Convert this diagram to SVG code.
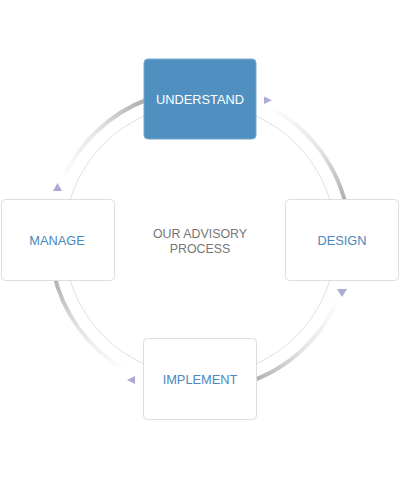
<svg xmlns="http://www.w3.org/2000/svg" width="400" height="479" viewBox="0 0 400 479">
<style>
.box{fill:#fff;stroke:#dedede;stroke-width:1}
.lbl{font-family:"Liberation Sans",Arial,sans-serif;font-size:12.8px;fill:#4a88bd;text-anchor:middle}
.center{font-family:"Liberation Sans",Arial,sans-serif;font-size:12.4px;fill:#777;text-anchor:middle}
.arrow{fill:#ababd3}
.thick{fill:none;stroke-width:4;stroke-linecap:butt}
</style>
<defs>
<linearGradient id="gTR" gradientUnits="userSpaceOnUse" x1="268" y1="106" x2="347" y2="209">
<stop offset="0" stop-color="#a8a8a8" stop-opacity="0"/><stop offset="0.5" stop-color="#a8a8a8" stop-opacity="0.3"/><stop offset="1" stop-color="#a8a8a8" stop-opacity="1"/>
</linearGradient>
<linearGradient id="gBR" gradientUnits="userSpaceOnUse" x1="339" y1="296" x2="246" y2="383">
<stop offset="0" stop-color="#a8a8a8" stop-opacity="0"/><stop offset="0.5" stop-color="#a8a8a8" stop-opacity="0.3"/><stop offset="1" stop-color="#a8a8a8" stop-opacity="1"/>
</linearGradient>
<linearGradient id="gBL" gradientUnits="userSpaceOnUse" x1="125" y1="370" x2="53" y2="271">
<stop offset="0" stop-color="#a8a8a8" stop-opacity="0"/><stop offset="0.5" stop-color="#a8a8a8" stop-opacity="0.3"/><stop offset="1" stop-color="#a8a8a8" stop-opacity="1"/>
</linearGradient>
<linearGradient id="gTL" gradientUnits="userSpaceOnUse" x1="62" y1="181" x2="149" y2="99">
<stop offset="0" stop-color="#a8a8a8" stop-opacity="0"/><stop offset="0.5" stop-color="#a8a8a8" stop-opacity="0.3"/><stop offset="1" stop-color="#a8a8a8" stop-opacity="1"/>
</linearGradient>
</defs>
<rect width="400" height="479" fill="#fff"/>
<g id="connectors">
<circle cx="200" cy="240" r="136" fill="none" stroke="#e0e0e0" stroke-width="1"/>
<path class="thick" stroke="url(#gTR)" d="M268.1,106.4 A150,150 0 0 1 347.7,214"/>
<path class="thick" stroke="url(#gBR)" d="M339.1,296.2 A150,150 0 0 1 246.4,382.7"/>
<path class="thick" stroke="url(#gBL)" d="M125,369.9 A150,150 0 0 1 53.3,271.2"/>
<path class="thick" stroke="url(#gTL)" d="M62,181.4 A150,150 0 0 1 148.7,99"/>
<polygon class="arrow" points="264,96.5 264,104 272,100.3"/>
<polygon class="arrow" points="337,289 347,289 342,297"/>
<polygon class="arrow" points="135,376 135,384 127,380"/>
<polygon class="arrow" points="53,191 62,191 57.5,183"/>
</g>
<g id="understand">
<rect x="144" y="59" width="112" height="80" rx="4" fill="#5090c1" stroke="#78a9d1"/>
<text class="lbl" x="200" y="104" style="fill:#fff">UNDERSTAND</text>
</g>
<g id="design">
<rect class="box" x="285.5" y="199.5" width="113" height="81" rx="4"/>
<text class="lbl" x="342" y="245">DESIGN</text>
</g>
<g id="implement">
<rect class="box" x="143.5" y="338.5" width="113" height="81" rx="4"/>
<text class="lbl" x="200" y="383.5">IMPLEMENT</text>
</g>
<g id="manage">
<rect class="box" x="1.5" y="199.5" width="113" height="81" rx="4"/>
<text class="lbl" x="57" y="245">MANAGE</text>
</g>
<g id="center-label">
<text class="center" x="200" y="238">OUR ADVISORY</text>
<text class="center" x="200" y="253">PROCESS</text>
</g>
</svg>
